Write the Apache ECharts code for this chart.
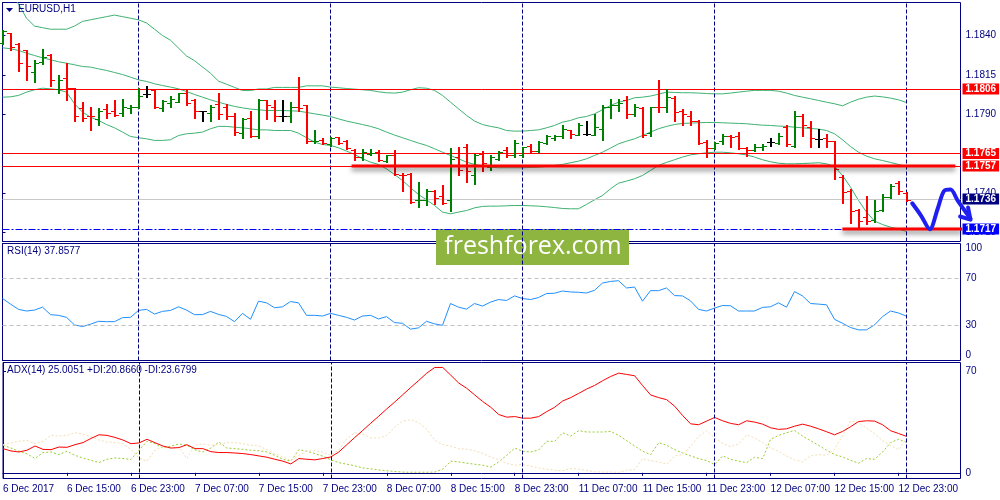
<!DOCTYPE html>
<html><head><meta charset="utf-8">
<script src="https://cdn.jsdelivr.net/npm/echarts@6/dist/echarts.min.js"></script>
<style>html,body{margin:0;padding:0;background:#fff}#c{width:1000px;height:500px}</style>
</head><body><div id="c"></div>
<script>
// ---- tick labels ----
const timeLabels = ["6 Dec 2017","6 Dec 15:00","6 Dec 23:00","7 Dec 07:00","7 Dec 15:00","7 Dec 23:00","8 Dec 07:00","8 Dec 15:00","8 Dec 23:00","11 Dec 07:00","11 Dec 15:00","11 Dec 23:00","12 Dec 07:00","12 Dec 15:00","12 Dec 23:00"];
const priceTicks = [1.1715,1.1740,1.1765,1.1790,1.1815,1.1840];
const rsiTicks = [0,30,70,100];
const adxTicks = [0,70];
const daySeparators = [17,41,65,89,113];

// ---- EURUSD H1 bars ----
const opens = [1.18351,1.18415,1.18343,1.18305,1.18167,1.18230,1.18277,1.18061,1.18131,1.18065,
1.17940,1.17891,1.17870,1.17934,1.17923,1.17908,1.17940,1.17944,1.18025,1.18054,
1.17940,1.17974,1.17980,1.18033,1.17987,1.17923,1.17906,1.17965,1.17948,1.17889,
1.17779,1.17876,1.17764,1.17987,1.17948,1.17891,1.17891,1.17948,1.17955,1.17728,
1.17736,1.17711,1.17753,1.17732,1.17673,1.17626,1.17647,1.17658,1.17605,1.17637,
1.17516,1.17520,1.17351,1.17351,1.17414,1.17382,1.17351,1.17626,1.17690,1.17510,
1.17647,1.17563,1.17616,1.17669,1.17643,1.17637,1.17698,1.17664,1.17715,1.17749,
1.17758,1.17796,1.17770,1.17775,1.17770,1.17806,1.17948,1.17961,1.17987,1.17902,
1.17940,1.17779,1.17948,1.17944,1.18004,1.17923,1.17891,1.17855,1.17722,1.17686,
1.17732,1.17764,1.17764,1.17686,1.17673,1.17690,1.17722,1.17715,1.17817,1.17700,
1.17891,1.17821,1.17743,1.17749,1.17728,1.17499,1.17414,1.17291,1.17245,1.17228,
1.17291,1.17376,1.17461,1.17397];
const highs = [1.18436,1.18417,1.18351,1.18309,1.18245,1.18315,1.18283,1.18152,1.18226,1.18067,
1.17976,1.17948,1.17938,1.17965,1.17987,1.17997,1.17961,1.18067,1.18082,1.18061,
1.17991,1.18016,1.18037,1.18061,1.17995,1.17923,1.17961,1.18037,1.17965,1.17908,
1.17876,1.17923,1.17995,1.17993,1.17993,1.17993,1.17976,1.18135,1.17961,1.17800,
1.17749,1.17757,1.17757,1.17736,1.17679,1.17679,1.17679,1.17669,1.17643,1.17669,
1.17524,1.17527,1.17467,1.17425,1.17418,1.17452,1.17686,1.17690,1.17707,1.17647,
1.17664,1.17643,1.17664,1.17690,1.17736,1.17690,1.17707,1.17732,1.17770,1.17770,
1.17828,1.17800,1.17842,1.17855,1.17898,1.17961,1.17997,1.17997,1.18018,1.17965,
1.17948,1.17948,1.18114,1.18061,1.18018,1.17934,1.17923,1.17864,1.17736,1.17722,
1.17775,1.17770,1.17789,1.17690,1.17707,1.17711,1.17749,1.17779,1.17828,1.17923,
1.17898,1.17855,1.17806,1.17775,1.17732,1.17510,1.17425,1.17298,1.17382,1.17351,
1.17393,1.17457,1.17474,1.17404];
const lows = [1.18347,1.18309,1.18173,1.18114,1.18103,1.18216,1.18078,1.18033,1.17987,1.17855,
1.17859,1.17796,1.17828,1.17876,1.17887,1.17891,1.17906,1.17940,1.18008,1.17940,
1.17919,1.17944,1.17976,1.17961,1.17876,1.17855,1.17855,1.17870,1.17870,1.17770,
1.17749,1.17753,1.17749,1.17868,1.17855,1.17855,1.17849,1.17923,1.17715,1.17715,
1.17707,1.17698,1.17707,1.17679,1.17609,1.17609,1.17637,1.17599,1.17594,1.17510,
1.17414,1.17336,1.17308,1.17325,1.17329,1.17329,1.17283,1.17510,1.17467,1.17457,
1.17537,1.17546,1.17609,1.17626,1.17630,1.17626,1.17652,1.17658,1.17707,1.17736,
1.17749,1.17749,1.17770,1.17766,1.17770,1.17736,1.17876,1.17919,1.17876,1.17891,
1.17753,1.17764,1.17912,1.17912,1.17855,1.17834,1.17834,1.17707,1.17626,1.17679,
1.17707,1.17690,1.17679,1.17635,1.17664,1.17673,1.17700,1.17707,1.17700,1.17690,
1.17764,1.17694,1.17694,1.17690,1.17488,1.17336,1.17206,1.17181,1.17202,1.17213,
1.17283,1.17368,1.17389,1.17346];
const closes = [1.18428,1.18326,1.18226,1.18209,1.18226,1.18266,1.18118,1.18114,1.18067,1.17891,
1.17876,1.17885,1.17923,1.17906,1.17895,1.17948,1.17948,1.18018,1.18025,1.17944,
1.17982,1.17997,1.18033,1.17970,1.17923,1.17923,1.17948,1.17898,1.17885,1.17785,
1.17870,1.17758,1.17991,1.17959,1.17885,1.17891,1.17948,1.17940,1.17732,1.17732,
1.17715,1.17749,1.17715,1.17683,1.17626,1.17658,1.17652,1.17609,1.17637,1.17520,
1.17510,1.17340,1.17355,1.17414,1.17368,1.17336,1.17616,1.17546,1.17541,1.17637,
1.17588,1.17626,1.17658,1.17637,1.17715,1.17690,1.17664,1.17722,1.17764,1.17760,
1.17806,1.17775,1.17828,1.17775,1.17821,1.17948,1.17961,1.17970,1.17898,1.17944,
1.17770,1.17944,1.17944,1.18008,1.17912,1.17902,1.17855,1.17715,1.17686,1.17715,
1.17758,1.17753,1.17686,1.17673,1.17690,1.17700,1.17722,1.17764,1.17707,1.17891,
1.17828,1.17749,1.17743,1.17728,1.17552,1.17404,1.17287,1.17223,1.17223,1.17287,
1.17372,1.17446,1.17410,1.17355];

// ---- Bollinger Bands ----
const bbUpper = [1.1872,1.1867,1.1860,1.1851,1.1846,1.1845,1.1844,1.1844,1.1844,1.1846,
1.1849,1.1850,1.1851,1.1852,1.1853,1.1852,1.1851,1.1850,1.1848,1.1844,
1.1840,1.1837,1.1832,1.1827,1.1824,1.1820,1.1816,1.1811,1.1809,1.1807,
1.1805,1.1805,1.1806,1.1806,1.1807,1.1807,1.1807,1.1807,1.1808,1.1808,
1.1808,1.18072,1.18068,1.18063,1.18059,1.18055,1.18051,1.18042,1.18036,1.18034,
1.18040,1.18055,1.18068,1.18065,1.18051,1.18019,1.17976,1.17934,1.17892,1.17856,
1.17834,1.17822,1.17813,1.17796,1.17792,1.17792,1.17796,1.17800,1.17813,1.17828,
1.17849,1.17860,1.17877,1.17885,1.17902,1.17928,1.17955,1.17976,1.17987,1.18004,
1.18008,1.18015,1.18027,1.18040,1.18038,1.18036,1.18036,1.18034,1.18031,1.18029,
1.18029,1.18034,1.18040,1.18046,1.18051,1.18051,1.18051,1.18046,1.18034,1.18019,
1.18008,1.17998,1.17987,1.17976,1.17966,1.17953,1.17976,1.17995,1.18008,1.18015,
1.18010,1.18002,1.17991,1.17974];
const bbMiddle = [1.18322,1.18316,1.18305,1.18288,1.18273,1.18258,1.18246,1.18233,1.18224,1.18214,
1.18203,1.18199,1.18188,1.18178,1.18165,1.18152,1.18135,1.18118,1.18108,1.18093,
1.18082,1.18072,1.18061,1.18044,1.18025,1.18008,1.17991,1.17976,1.17962,1.17949,
1.17940,1.17932,1.17928,1.17923,1.17923,1.17923,1.17921,1.17919,1.17911,1.17902,
1.17894,1.17885,1.17870,1.17856,1.17845,1.17834,1.17822,1.17807,1.17786,1.17767,
1.17750,1.17733,1.17716,1.17701,1.17680,1.17658,1.17637,1.17616,1.17595,1.17580,
1.17571,1.17563,1.17559,1.17559,1.17559,1.17559,1.17561,1.17563,1.17567,1.17574,
1.17580,1.17591,1.17601,1.17616,1.17637,1.17658,1.17684,1.17711,1.17728,1.17743,
1.17764,1.17786,1.17807,1.17822,1.17834,1.17841,1.17843,1.17845,1.17847,1.17847,
1.17845,1.17843,1.17841,1.17839,1.17834,1.17830,1.17828,1.17824,1.17822,1.17817,
1.17813,1.17809,1.17805,1.17796,1.17775,1.17737,1.17694,1.17658,1.17633,1.17616,
1.17605,1.17593,1.17580,1.17567];
const bbLower = [1.18008,1.18010,1.18019,1.18040,1.18055,1.18065,1.18061,1.18055,1.18040,1.17966,
1.17913,1.17881,1.17860,1.17834,1.17813,1.17786,1.17758,1.17750,1.17743,1.17733,
1.17733,1.17737,1.17764,1.17775,1.17779,1.17786,1.17807,1.17822,1.17822,1.17817,
1.17813,1.17807,1.17800,1.17800,1.17796,1.17796,1.17796,1.17779,1.17750,1.17722,
1.17707,1.17701,1.17686,1.17665,1.17644,1.17616,1.17595,1.17580,1.17552,1.17516,
1.17478,1.17432,1.17389,1.17355,1.17319,1.17277,1.17266,1.17277,1.17287,1.17304,
1.17313,1.17315,1.17315,1.17317,1.17319,1.17319,1.17317,1.17315,1.17311,1.17306,
1.17300,1.17298,1.17298,1.17326,1.17355,1.17383,1.17425,1.17461,1.17474,1.17489,
1.17510,1.17542,1.17574,1.17593,1.17610,1.17627,1.17641,1.17648,1.17654,1.17658,
1.17658,1.17654,1.17648,1.17641,1.17627,1.17610,1.17597,1.17588,1.17584,1.17584,
1.17586,1.17588,1.17591,1.17584,1.17567,1.17510,1.17436,1.17351,1.17277,1.17220,
1.17198,1.17181,1.17169,1.17154];

// ---- RSI(14) ----
const rsi = [53.0,48.2,43.7,42.3,43.1,45.6,39.2,38.6,36.9,30.4,
29.0,31.0,33.5,33.2,33.2,36.6,36.9,42.8,43.7,39.7,
42.0,42.8,45.9,43.1,39.2,39.2,42.0,39.4,37.7,33.2,
40.3,35.2,50.7,49.3,45.1,45.9,50.4,49.3,38.6,38.6,
38.0,40.3,38.6,36.9,34.6,38.0,38.6,35.5,37.5,32.4,
31.8,26.8,27.9,33.5,31.3,30.1,48.7,45.6,43.9,48.7,
46.5,49.9,52.1,51.3,55.2,53.0,52.1,53.8,57.2,57.5,
59.4,58.6,58.3,57.7,60.0,66.2,67.6,68.2,62.0,62.8,
50.7,59.7,59.7,62.0,55.5,55.2,51.0,43.7,42.3,44.8,
47.0,46.8,42.3,42.3,42.3,45.4,45.9,49.3,45.6,58.9,
55.2,48.7,48.2,47.6,35.2,31.8,28.2,26.2,26.2,30.4,
37.5,42.3,40.6,37.86];

// ---- ADX(14) ----
const adx = [16.6,15.0,14.3,15.5,18.4,16.1,15.9,17.7,17.5,19.3,
20.7,23.6,26.1,25.7,24.3,22.5,20.0,20.5,23.0,20.7,
18.4,17.0,17.3,19.3,16.6,16.6,14.5,13.9,13.9,13.6,
13.2,12.5,11.6,10.7,9.3,8.0,6.1,9.8,9.3,8.9,
9.8,10.9,14.3,19.3,24.3,29.1,34.1,38.9,43.9,48.6,
53.6,58.6,63.4,68.4,72.3,72.3,67.0,61.6,58.0,53.4,
48.9,45.0,40.0,38.2,38.6,37.5,37.5,38.6,42.0,45.0,
49.3,51.6,54.5,57.5,60.0,63.2,66.1,68.4,67.5,66.6,
59.8,53.4,51.6,50.2,45.7,39.3,33.6,33.0,35.5,38.0,
35.7,33.9,33.0,35.7,34.8,33.4,30.9,29.8,30.2,32.0,
33.4,32.0,30.2,28.2,26.1,28.4,31.6,35.2,35.7,35.5,
33.0,28.9,27.0,25.01];
const plusDI = [18.9,17.0,14.8,13.0,9.8,13.9,14.3,12.5,14.8,12.0,
10.2,8.6,7.0,9.3,10.2,9.8,9.1,15.5,21.6,20.0,
17.0,18.4,19.8,18.9,15.7,14.3,17.0,21.1,17.0,16.6,
16.1,15.5,15.2,14.3,12.0,9.3,8.0,15.9,14.8,13.2,
11.4,8.9,7.0,5.9,4.8,3.4,2.7,2.0,1.4,0.9,
0.5,0.4,0.4,0.4,0.5,2.5,8.0,7.5,6.6,5.9,
5.2,3.9,7.5,12.0,17.0,14.8,14.3,15.7,21.6,21.6,
27.5,25.2,28.9,28.0,28.0,28.0,28.4,25.7,22.0,18.4,
14.8,12.5,20.7,18.9,15.9,13.6,11.6,9.8,8.4,5.7,
11.6,9.3,8.0,7.0,10.7,9.8,23.0,25.7,27.5,29.1,
25.2,22.0,18.9,15.5,12.5,10.9,8.6,6.6,9.8,9.3,
14.3,20.7,23.0,20.87];
const minusDI = [19.3,20.5,21.6,22.3,20.0,21.6,25.7,25.2,25.7,27.5,
26.6,24.8,22.5,21.1,20.7,20.0,16.1,10.2,8.0,15.5,
18.0,17.0,17.5,9.8,18.9,19.8,18.9,19.3,20.7,20.7,
20.0,18.9,18.4,15.9,13.2,10.9,8.4,12.0,14.8,15.2,
14.3,12.0,15.7,23.4,27.5,26.6,23.9,23.9,25.7,31.4,
35.5,36.4,34.3,29.8,22.3,19.3,18.4,16.6,16.1,15.2,
13.2,10.9,8.9,6.4,5.2,5.7,4.5,3.4,2.5,1.8,
1.4,3.0,2.5,1.6,0.7,0.5,0.5,0.3,1.8,2.3,
9.8,8.2,7.5,5.9,11.6,12.5,18.4,24.8,28.9,23.9,
20.2,18.0,19.8,26.1,23.9,20.7,17.0,14.8,11.6,8.9,
7.5,11.6,12.5,12.0,16.1,25.7,35.5,34.5,30.7,27.0,
22.0,18.9,15.7,23.68];

// ---- drawn levels & annotations ----
const redLevels = [1.1806, 1.1765, 1.1757];
const bidPrice = 1.1736;
const targetPrice = 1.1717;
const thickSegments = [
  {from: 43.75, to: 119.4, price: 1.1757},
  {from: 105.25, to: 120.25, price: 1.1717}
];
const arrowPath = [[114.0,1.17333],[115.1,1.17255],[116.2,1.17168],[117.2,1.17300],[118.0,1.17412],[118.8,1.17420],[119.7,1.17350],[121.3,1.17235]];
const arrowHead = [[120.0,1.17249],[121.3,1.17229],[121.0,1.17306]];

const NAVY = '#000080';
const FONT = '"Liberation Sans", Arial, sans-serif';
const GL = 2.5, GW = 958;
const XMAX = GW / 8;
const YMIN = 1.1709, YMAX = 1.1861;

const chart = echarts.init(document.getElementById('c'), null, {renderer: 'canvas'});

function renderBar(params, api) {
  const i = api.value(0), o = api.value(1), h = api.value(2), l = api.value(3), c = api.value(4);
  const ph = api.coord([i, h]), pl = api.coord([i, l]), po = api.coord([i, o]), pc = api.coord([i, c]);
  const x = Math.round(ph[0]);
  const col = c > o ? '#008000' : (c < o ? '#ff0000' : '#000000');
  const yo = Math.round(po[1]) + 0.5, yc = Math.round(pc[1]) + 0.5;
  return {type: 'group', children: [
    {type: 'line', shape: {x1: x, y1: Math.round(ph[1]), x2: x, y2: Math.round(pl[1]) + 1}, style: {stroke: col, lineWidth: 2}},
    {type: 'line', shape: {x1: x - 4, y1: yo, x2: x - 1, y2: yo}, style: {stroke: col, lineWidth: 1}},
    {type: 'line', shape: {x1: x + 1, y1: yc, x2: x + 4, y2: yc}, style: {stroke: col, lineWidth: 1}}
  ]};
}

const pts = arr => arr.map((v, i) => [i, v]);
const sepLines = daySeparators.map(v => ({xAxis: v, label: {show: false}, lineStyle: {color: NAVY, type: [4, 2], width: 1, opacity: 1}}));
const boxLabel = (bg) => ({show: true, position: 'end', distance: 2, color: '#fff', backgroundColor: bg, fontFamily: FONT, fontSize: 10, fontWeight: 'bold', padding: [1, 3, 0, 3], formatter: p => Number(p.value).toFixed(4)});

const xAxisBase = (gi, show) => ({
  type: 'value', gridIndex: gi, min: 0, max: XMAX, interval: 8,
  splitLine: {show: false},
  axisLine: {show: show, lineStyle: {color: NAVY}},
  axisTick: {show: show, length: 3, lineStyle: {color: NAVY}},
  axisLabel: {show: show, showMaxLabel: false, align: 'left', margin: 6, color: NAVY, fontFamily: FONT, fontSize: 10,
    formatter: v => timeLabels[Math.round(v / 8)] || ''}
});
const yAxisBase = (gi, min, max, ticks, fmt, edgeAlign) => {
  const lab = {show: true, customValues: ticks, margin: 5, color: NAVY, fontFamily: FONT, fontSize: 10, formatter: fmt};
  if (edgeAlign) { lab.verticalAlignMinLabel = 'bottom'; lab.verticalAlignMaxLabel = 'top'; }
  return {
    type: 'value', gridIndex: gi, position: 'right', min: min, max: max,
    splitLine: {show: false},
    axisLine: {show: true, lineStyle: {color: NAVY}},
    axisTick: {show: true, length: 3, customValues: ticks, lineStyle: {color: NAVY}},
    axisLabel: lab
  };
};

const option = {
  animation: false,
  backgroundColor: '#ffffff',
  grid: [
    {left: GL, top: 2.5, width: GW, height: 239, show: true, borderColor: NAVY, borderWidth: 1, backgroundColor: 'transparent'},
    {left: GL, top: 243.5, width: GW, height: 117, show: true, borderColor: NAVY, borderWidth: 1, backgroundColor: 'transparent'},
    {left: GL, top: 362.5, width: GW, height: 116, show: true, borderColor: NAVY, borderWidth: 1, backgroundColor: 'transparent'},
    // overlay for hand-drawn annotations reaching into the price-scale area
    {left: GL, top: 2.5, width: 1000, height: 239, show: false}
  ],
  xAxis: [xAxisBase(0, false), xAxisBase(1, false), xAxisBase(2, true),
    {type: 'value', gridIndex: 3, min: 0, max: 125, show: false}],
  yAxis: [
    yAxisBase(0, YMIN, YMAX, priceTicks, v => v.toFixed(4), false),
    yAxisBase(1, 0, 100, rsiTicks, v => String(Math.round(v)), true),
    yAxisBase(2, -3.9, 75.7, adxTicks, v => String(Math.round(v)), false),
    {type: 'value', gridIndex: 3, min: YMIN, max: YMAX, show: false}
  ],
  graphic: [
    {type: 'polygon', shape: {points: [[6, 8], [13, 8], [9.5, 12]]}, style: {fill: NAVY}, z: 100},
    {type: 'text', left: 18, top: 4, style: {text: 'EURUSD,H1', fill: NAVY, font: '10px ' + FONT}, z: 100},
    {type: 'text', left: 7, top: 246, style: {text: 'RSI(14) 37.8577', fill: NAVY, font: '10px ' + FONT}, z: 100},
    {type: 'text', left: 7, top: 365, style: {text: 'ADX(14) 25.0051 +DI:20.8660 -DI:23.6799', fill: NAVY, font: '10px ' + FONT}, z: 100},
    {type: 'group', left: 436, top: 229, z: 100, children: [
      {type: 'rect', shape: {x: 0, y: 0, width: 193, height: 36}, style: {fill: '#8db53f'}},
      {type: 'text', x: 97, y: 18, style: {text: 'freshforex.com', fill: '#ffffff', font: '25px "Open Sans", sans-serif', align: 'center', verticalAlign: 'middle'}}
    ]}
  ],
  series: [
    {type: 'line', name: 'BB upper', xAxisIndex: 0, yAxisIndex: 0, data: pts(bbUpper), showSymbol: false, symbol: 'none',
      lineStyle: {color: '#3cb371', width: 1}, z: 2,
      markLine: {silent: true, symbol: ['none', 'none'], animation: false, data: sepLines}},
    {type: 'line', name: 'BB middle', xAxisIndex: 0, yAxisIndex: 0, data: pts(bbMiddle), showSymbol: false, symbol: 'none',
      lineStyle: {color: '#3cb371', width: 1}, z: 2},
    {type: 'line', name: 'BB lower', xAxisIndex: 0, yAxisIndex: 0, data: pts(bbLower), showSymbol: false, symbol: 'none',
      lineStyle: {color: '#3cb371', width: 1}, z: 2},
    {type: 'line', name: 'levels', xAxisIndex: 0, yAxisIndex: 0, data: [[0, bidPrice]], showSymbol: false, symbol: 'none',
      lineStyle: {opacity: 0}, z: 3,
      markLine: {silent: true, symbol: ['none', 'none'], animation: false, precision: 5, data: [
        {yAxis: bidPrice, lineStyle: {color: '#c8c8c8', type: 'solid', width: 1}, label: boxLabel('#000080')},
        ...redLevels.map(v => ({yAxis: v, lineStyle: {color: '#ff0000', type: 'solid', width: 1}, label: boxLabel('#ff0000')})),
        {yAxis: targetPrice, lineStyle: {color: '#0000ff', type: [7, 2, 2, 2], width: 1}, label: boxLabel('#0000ff')}
      ]}},
    {type: 'custom', name: 'EURUSD', xAxisIndex: 0, yAxisIndex: 0, renderItem: renderBar, z: 5,
      encode: {x: 0, y: [1, 2, 3, 4]},
      data: opens.map((o, i) => [i, o, highs[i], lows[i], closes[i]])},
    ...thickSegments.map(s => ({type: 'line', xAxisIndex: 3, yAxisIndex: 3, symbol: 'none', showSymbol: false, z: 6,
      data: [[s.from, s.price], [s.to, s.price]],
      lineStyle: {color: '#ff0000', width: 3, shadowColor: 'rgba(0,0,0,0.55)', shadowBlur: 5, shadowOffsetY: 3}})),
    {type: 'line', xAxisIndex: 3, yAxisIndex: 3, symbol: 'none', showSymbol: false, smooth: 0.3, z: 7,
      data: arrowPath, lineStyle: {color: '#1f1ff2', width: 4, cap: 'round', join: 'round'}},
    {type: 'line', xAxisIndex: 3, yAxisIndex: 3, symbol: 'none', showSymbol: false, z: 7,
      data: arrowHead, lineStyle: {color: '#1f1ff2', width: 4, cap: 'round', join: 'round'}},
    {type: 'line', name: 'RSI', xAxisIndex: 1, yAxisIndex: 1, data: pts(rsi), showSymbol: false, symbol: 'none',
      lineStyle: {color: '#1e90ff', width: 1}, z: 3,
      markLine: {silent: true, symbol: ['none', 'none'], animation: false, data: [
        ...sepLines,
        {yAxis: 70, label: {show: false}, lineStyle: {color: '#c0c0c0', type: [4, 3], width: 1}},
        {yAxis: 30, label: {show: false}, lineStyle: {color: '#c0c0c0', type: [4, 3], width: 1}}
      ]}},
    {type: 'line', name: '+DI', xAxisIndex: 2, yAxisIndex: 2, data: pts(plusDI), showSymbol: false, symbol: 'none',
      lineStyle: {color: '#9acd32', width: 1, type: [2, 2]}, z: 2},
    {type: 'line', name: '-DI', xAxisIndex: 2, yAxisIndex: 2, data: pts(minusDI), showSymbol: false, symbol: 'none',
      lineStyle: {color: '#f5deb3', width: 1, type: [2, 2]}, z: 2},
    {type: 'line', name: 'ADX', xAxisIndex: 2, yAxisIndex: 2, data: pts(adx), showSymbol: false, symbol: 'none',
      lineStyle: {color: '#ff0000', width: 1}, z: 3,
      markLine: {silent: true, symbol: ['none', 'none'], animation: false, data: sepLines}}
  ]
};
chart.setOption(option);
</script>
</body></html>
